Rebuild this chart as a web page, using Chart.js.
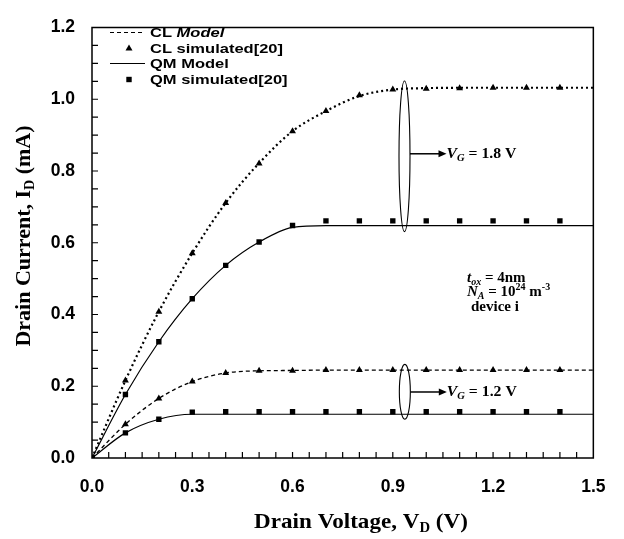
<!DOCTYPE html>
<html>
<head>
<meta charset="utf-8">
<script src="https://cdn.jsdelivr.net/npm/chart.js@4.4.1/dist/chart.umd.min.js"></script>
<style>
  body { margin: 0; background: #fff; }
  canvas { display: block; }
</style>
</head>
<body>
<canvas id="myChart" width="624" height="539"></canvas>
<script>
// drain voltage (V) where the curves were read
const vdModel = [0, 0.1, 0.2, 0.3, 0.4, 0.5, 0.6, 0.7, 0.8, 0.9, 1.0, 1.1, 1.2, 1.3, 1.4, 1.5];
const vdSim = [0, 0.1, 0.2, 0.3, 0.4, 0.5, 0.6, 0.7, 0.8, 0.9, 1.0, 1.1, 1.2, 1.3, 1.4];

// VG = 1.8 V
const clModel18 = [0, 0.216, 0.408, 0.571, 0.711, 0.822, 0.911, 0.967, 1.009, 1.027, 1.031, 1.032, 1.032, 1.032, 1.032, 1.032];
const clSim18 = [0, 0.216, 0.408, 0.571, 0.711, 0.821, 0.911, 0.967, 1.011, 1.027, 1.029, 1.031, 1.032, 1.032, 1.032];
const qmModel18 = [0, 0.177, 0.324, 0.444, 0.537, 0.602, 0.643, 0.648, 0.648, 0.648, 0.648, 0.648, 0.648, 0.648, 0.648, 0.648];
const qmSim18 = [0, 0.177, 0.324, 0.444, 0.537, 0.602, 0.648, 0.661, 0.661, 0.661, 0.661, 0.661, 0.661, 0.661, 0.661];

// VG = 1.2 V
const clModel12 = [0, 0.094, 0.166, 0.213, 0.237, 0.243, 0.244, 0.245, 0.245, 0.245, 0.245, 0.245, 0.245, 0.245, 0.245, 0.245];
const clSim12 = [0, 0.094, 0.166, 0.213, 0.237, 0.243, 0.243, 0.245, 0.245, 0.245, 0.245, 0.245, 0.245, 0.245, 0.245];
const qmModel12 = [0, 0.070, 0.108, 0.122, 0.122, 0.122, 0.122, 0.122, 0.122, 0.122, 0.122, 0.122, 0.122, 0.122, 0.122, 0.122];
const qmSim12 = [0, 0.070, 0.108, 0.128, 0.129, 0.129, 0.129, 0.129, 0.129, 0.129, 0.129, 0.129, 0.129, 0.129, 0.129];

const xTickStep = 0.3;
const yTickStep = 0.2;

function pts(xs, ys) {
    return ys.map((y, i) => ({ x: xs[i], y: y }));
}

const SANS = '"Liberation Sans", Arial, sans-serif';
const SERIF = '"Liberation Serif", "Times New Roman", serif';

// draws a run of text pieces (sub/superscripts), sx stretches it sideways
function drawRich(ctx, parts, x, y, align, sx) {
    sx = sx || 1;
    let total = 0;
    parts.forEach(p => { ctx.font = p.f; p.w = ctx.measureText(p.t).width; total += p.w; });
    ctx.save();
    ctx.translate(x, y);
    ctx.scale(sx, 1);
    let cx = align === 'center' ? -total / 2 : 0;
    ctx.textAlign = 'left';
    ctx.textBaseline = 'alphabetic';
    parts.forEach(p => {
        ctx.font = p.f;
        ctx.fillText(p.t, cx, p.dy || 0);
        cx += p.w;
    });
    ctx.restore();
}

const frameAndNotes = {
    id: 'frameAndNotes',
    afterDatasetsDraw(chart) {
        const ctx = chart.ctx;
        const a = chart.chartArea;
        const xs = chart.scales.x, ys = chart.scales.y;
        ctx.save();
        ctx.strokeStyle = '#000';
        ctx.fillStyle = '#000';
        ctx.setLineDash([]);

        // frame
        ctx.lineWidth = 1.5;
        ctx.strokeRect(a.left, a.top, a.right - a.left, a.bottom - a.top);

        // inward ticks
        ctx.lineWidth = 1.2;
        ctx.beginPath();
        for (let i = 1; i < 30; i++) {
            const px = xs.getPixelForValue(i * 0.05);
            ctx.moveTo(px, a.bottom);
            ctx.lineTo(px, a.bottom - 6);
        }
        for (let i = 1; i < 24; i++) {
            const py = ys.getPixelForValue(i * 0.05);
            ctx.moveTo(a.left, py);
            ctx.lineTo(a.left + 6, py);
        }
        ctx.stroke();

        // legend
        const lx0 = 110, lx1 = 145, mx = 129, tx = 150;
        const rows = [32.5, 48, 63.5, 79.5];
        ctx.lineWidth = 1.2;
        ctx.setLineDash([4, 3]);
        ctx.beginPath(); ctx.moveTo(lx0, rows[0]); ctx.lineTo(lx1, rows[0]); ctx.stroke();
        ctx.setLineDash([]);
        ctx.beginPath(); ctx.moveTo(lx0, rows[2]); ctx.lineTo(lx1, rows[2]); ctx.stroke();
        ctx.beginPath();
        ctx.moveTo(mx, rows[1] - 3.5); ctx.lineTo(mx + 3.5, rows[1] + 2.5); ctx.lineTo(mx - 3.5, rows[1] + 2.5); ctx.closePath();
        ctx.fill();
        ctx.fillRect(mx - 2.7, rows[3] - 2.7, 5.4, 5.4);
        const lf = 'bold 13px ' + SANS;
        drawRich(ctx, [{ t: 'CL ', f: lf }, { t: 'Model', f: 'italic ' + lf }], tx, rows[0] + 4.5, 'left', 1.27);
        drawRich(ctx, [{ t: 'CL simulated[20]', f: lf }], tx, rows[1] + 4.5, 'left', 1.27);
        drawRich(ctx, [{ t: 'QM Model', f: lf }], tx, rows[2] + 4.5, 'left', 1.27);
        drawRich(ctx, [{ t: 'QM simulated[20]', f: lf }], tx, rows[3] + 4.5, 'left', 1.27);

        // ellipses + arrows for the two gate voltages
        const notes = [
            { x: 0.935, yTop: 1.051, yBot: 0.631, yArrow: 0.848, label: '1.8 V' },
            { x: 0.936, yTop: 0.261, yBot: 0.108, yArrow: 0.184, label: '1.2 V' }
        ];
        notes.forEach(n => {
            const cx = xs.getPixelForValue(n.x);
            const t = ys.getPixelForValue(n.yTop), b = ys.getPixelForValue(n.yBot);
            const ay = ys.getPixelForValue(n.yArrow);
            ctx.lineWidth = 1.1;
            ctx.beginPath();
            ctx.ellipse(cx, (t + b) / 2, 5.5, (b - t) / 2, 0, 0, Math.PI * 2);
            ctx.stroke();
            ctx.lineWidth = 1.5;
            ctx.beginPath(); ctx.moveTo(cx + 5.5, ay); ctx.lineTo(cx + 36, ay); ctx.stroke();
            ctx.beginPath();
            ctx.moveTo(cx + 42, ay); ctx.lineTo(cx + 34, ay - 3.5); ctx.lineTo(cx + 34, ay + 3.5); ctx.closePath();
            ctx.fill();
            drawRich(ctx, [
                { t: 'V', f: 'italic bold 15px ' + SERIF },
                { t: 'G', f: 'italic bold 10px ' + SERIF, dy: 3 },
                { t: ' = ' + n.label, f: 'bold 15px ' + SERIF }
            ], cx + 42, ay + 4.5, 'left', 1.05);
        });

        // device parameters
        drawRich(ctx, [
            { t: 't', f: 'italic bold 15px ' + SERIF },
            { t: 'ox', f: 'italic bold 10px ' + SERIF, dy: 3 },
            { t: ' = 4nm', f: 'bold 15px ' + SERIF }
        ], 467, 281.5, 'left');
        drawRich(ctx, [
            { t: 'N', f: 'italic bold 15px ' + SERIF },
            { t: 'A', f: 'italic bold 10px ' + SERIF, dy: 3 },
            { t: ' = 10', f: 'bold 15px ' + SERIF },
            { t: '24', f: 'bold 10px ' + SERIF, dy: -6 },
            { t: ' m', f: 'bold 15px ' + SERIF },
            { t: '-3', f: 'bold 10px ' + SERIF, dy: -6 }
        ], 467, 295.5, 'left');
        drawRich(ctx, [{ t: 'device i', f: 'bold 15px ' + SERIF }], 471, 311, 'left');

        // axis titles
        drawRich(ctx, [
            { t: 'Drain Voltage, V', f: 'bold 22px ' + SERIF },
            { t: 'D', f: 'bold 14px ' + SERIF, dy: 4 },
            { t: ' (V)', f: 'bold 22px ' + SERIF }
        ], 361, 528, 'center', 1.05);
        ctx.translate(30, 236);
        ctx.rotate(-Math.PI / 2);
        drawRich(ctx, [
            { t: 'Drain Current, I', f: 'bold 22px ' + SERIF },
            { t: 'D', f: 'bold 14px ' + SERIF, dy: 4 },
            { t: ' (mA)', f: 'bold 22px ' + SERIF }
        ], 0, 0, 'center');
        ctx.restore();
    }
};

document.addEventListener("DOMContentLoaded", function() {
    const ctx = document.getElementById('myChart').getContext('2d');
    const lineBase = { showLine: true, pointRadius: 0, fill: false, borderColor: '#000', cubicInterpolationMode: 'monotone', borderCapStyle: 'butt' };
    const markBase = { showLine: false, borderColor: '#000', backgroundColor: '#000', pointBorderWidth: 0 };

    new Chart(ctx, {
        type: 'line',
        data: {
            datasets: [
                Object.assign({ label: 'CL Model 1.8', data: pts(vdModel, clModel18), borderWidth: 2.2, borderDash: [2, 3] }, lineBase),
                Object.assign({ label: 'QM Model 1.8', data: pts(vdModel, qmModel18), borderWidth: 1.2 }, lineBase),
                Object.assign({ label: 'CL Model 1.2', data: pts(vdModel, clModel12), borderWidth: 1.3, borderDash: [4, 3] }, lineBase),
                Object.assign({ label: 'QM Model 1.2', data: pts(vdModel, qmModel12), borderWidth: 1.2 }, lineBase),
                Object.assign({ label: 'CL simulated 1.8', data: pts(vdSim, clSim18), pointStyle: 'triangle', pointRadius: 4 }, markBase),
                Object.assign({ label: 'QM simulated 1.8', data: pts(vdSim, qmSim18), pointStyle: 'rect', pointRadius: 3.8 }, markBase),
                Object.assign({ label: 'CL simulated 1.2', data: pts(vdSim, clSim12), pointStyle: 'triangle', pointRadius: 4 }, markBase),
                Object.assign({ label: 'QM simulated 1.2', data: pts(vdSim, qmSim12), pointStyle: 'rect', pointRadius: 3.8 }, markBase)
            ]
        },
        options: {
            responsive: false,
            animation: false,
            layout: { padding: { top: 15, right: 27, left: 0, bottom: 0 } },
            scales: {
                x: {
                    type: 'linear',
                    min: 0,
                    max: 1.5,
                    grid: { display: false, drawTicks: false },
                    border: { display: false },
                    ticks: {
                        stepSize: xTickStep,
                        padding: 18.5,
                        color: '#000',
                        font: { family: SANS, size: 17.5, weight: 'bold' },
                        callback: v => v.toFixed(1)
                    },
                    afterFit: s => { s.height = 81; }
                },
                y: {
                    min: 0,
                    max: 1.2,
                    grid: { display: false, drawTicks: false },
                    border: { display: false },
                    ticks: {
                        stepSize: yTickStep,
                        padding: 17,
                        color: '#000',
                        font: { family: SANS, size: 17.5, weight: 'bold' },
                        callback: v => v.toFixed(1)
                    },
                    afterFit: s => { s.width = 92; }
                }
            },
            plugins: {
                legend: { display: false },
                tooltip: { enabled: false }
            }
        },
        plugins: [frameAndNotes]
    });
});
</script>
</body>
</html>
